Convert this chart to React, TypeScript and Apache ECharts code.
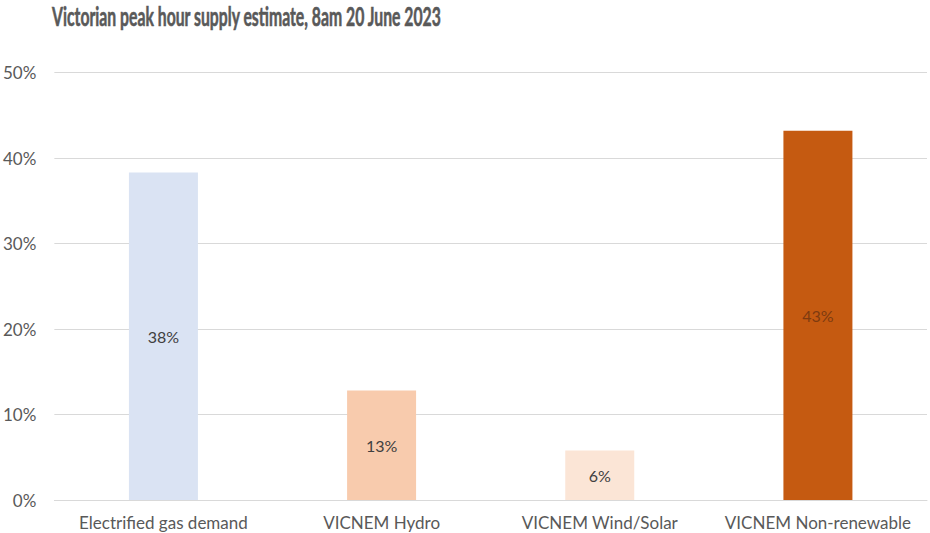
import React, { useEffect, useRef } from "react";
import * as echarts from "echarts";

// Share of Victorian peak-hour supply, percent
const categories = [
  "Electrified gas demand",
  "VICNEM Hydro",
  "VICNEM Wind/Solar",
  "VICNEM Non-renewable",
];
const shares = [38.3, 12.8, 5.8, 43.2];
const barColors = ["#dae3f3", "#f8cbad", "#fbe5d6", "#c55a11"];
const labelColors = ["#404040", "#404040", "#404040", "#7e3a10"];
const yTicks = { min: 0, max: 50, interval: 10 };
const title = "Victorian peak hour supply estimate, 8am 20 June 2023";

const TITLE_FONT = "bold 26px Lato";
const TITLE_WIDTH = 390;
const LABEL_FONT = "Lato";

function measure(text: string, font: string): number {
  const ctx = document.createElement("canvas").getContext("2d");
  if (!ctx) return TITLE_WIDTH;
  ctx.font = font;
  return ctx.measureText(text).width;
}

export default function App() {
  const ref = useRef<HTMLDivElement>(null);

  useEffect(() => {
    if (!ref.current) return;
    const chart = echarts.init(ref.current, undefined, { renderer: "svg" });
    // Condensed bold heading, squeezed horizontally to its set width
    const titleScale = TITLE_WIDTH / measure(title, TITLE_FONT);
    chart.setOption({
      animation: false,
      backgroundColor: "#ffffff",
      graphic: [
        {
          type: "text",
          x: 52,
          y: 16,
          scaleX: titleScale,
          style: {
            text: title,
            font: TITLE_FONT,
            fill: "#595959",
            stroke: "#595959",
            lineWidth: 0.6,
            textVerticalAlign: "middle",
            verticalAlign: "middle",
          },
        },
      ],
      grid: { left: 54, right: 3, top: 72.5, bottom: 33, containLabel: false },
      xAxis: {
        type: "category",
        data: categories,
        axisLine: { show: true, lineStyle: { color: "#d9d9d9", width: 1 } },
        axisTick: { show: false },
        axisLabel: {
          margin: 14,
          color: "#595959",
          fontFamily: LABEL_FONT,
          fontSize: 17,
          interval: 0,
        },
      },
      yAxis: {
        type: "value",
        min: yTicks.min,
        max: yTicks.max,
        interval: yTicks.interval,
        axisLine: { show: false },
        axisTick: { show: false },
        splitLine: { lineStyle: { color: "#d9d9d9", width: 1 } },
        axisLabel: {
          formatter: "{value}%",
          margin: 18,
          color: "#595959",
          fontFamily: LABEL_FONT,
          fontSize: 17,
        },
      },
      series: [
        {
          type: "bar",
          barWidth: 69,
          data: shares.map((v, i) => ({
            value: v,
            itemStyle: { color: barColors[i] },
            label: { color: labelColors[i] },
          })),
          label: {
            show: true,
            position: "inside",
            formatter: (p: any) => `${Math.round(p.value)}%`,
            fontFamily: LABEL_FONT,
            fontSize: 16,
          },
        },
      ],
    });
    return () => chart.dispose();
  }, []);

  return (
    <div
      ref={ref}
      style={{ position: "fixed", left: 0, top: 0, width: 930, height: 533 }}
    />
  );
}
